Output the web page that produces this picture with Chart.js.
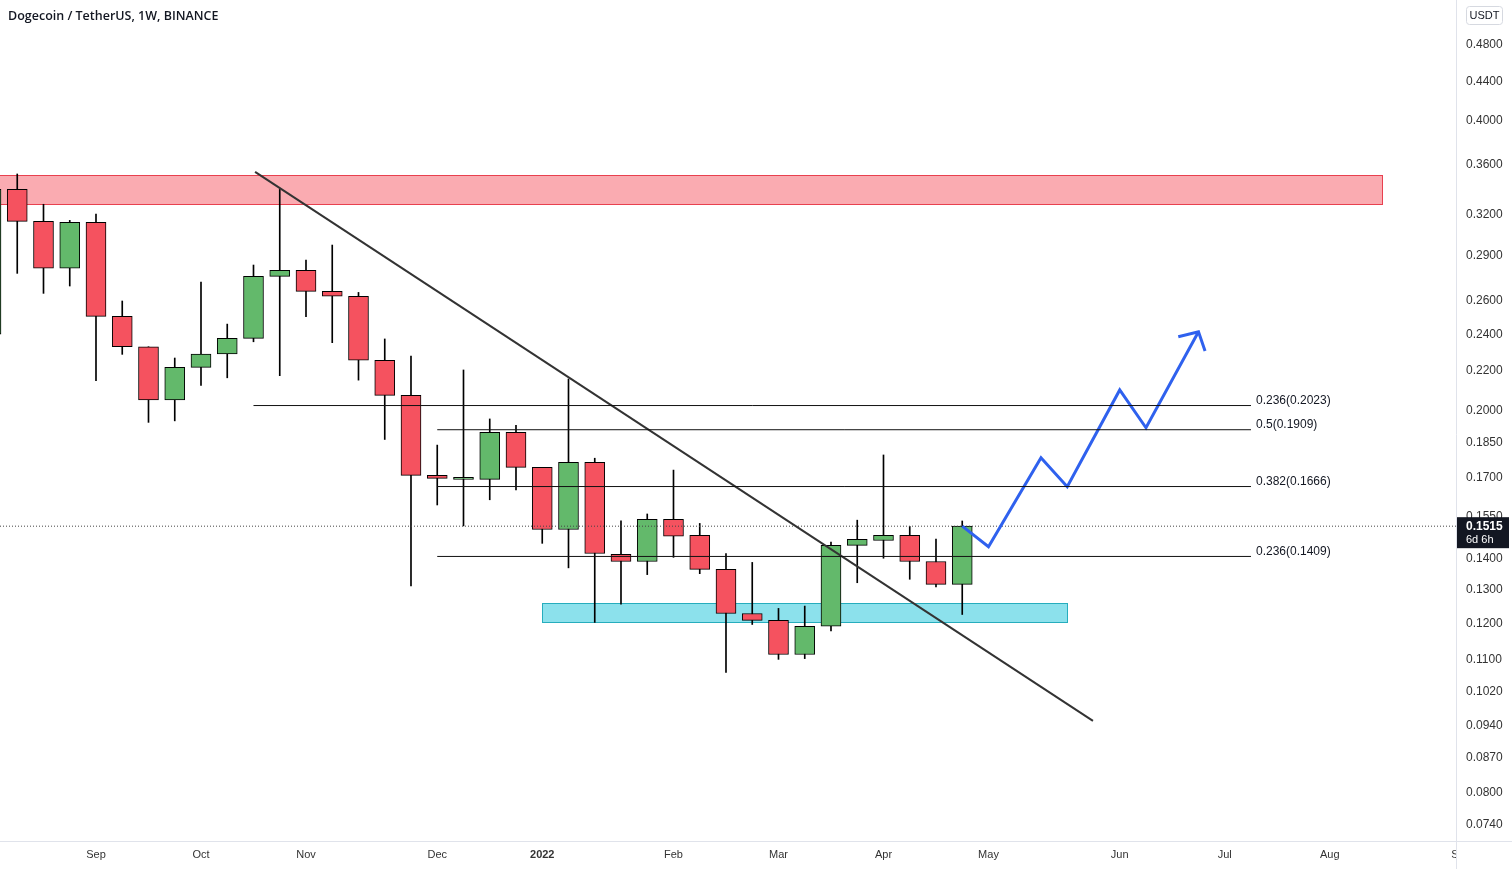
<!DOCTYPE html>
<html>
<head>
<meta charset="utf-8">
<title>Dogecoin / TetherUS, 1W, BINANCE</title>
<script src="https://cdn.jsdelivr.net/npm/chart.js@4.4.1/dist/chart.umd.min.js"></script>
<style>
  html, body { margin: 0; padding: 0; background: #fff; }
  #wrap { width: 1512px; height: 869px; position: relative; }
</style>
</head>
<body>
<div id="wrap"><canvas id="dogeChart"></canvas></div>
<script>
// weekly candles (monday of each week)
const weeks = [
  '2021-08-09', '2021-08-16', '2021-08-23', '2021-08-30', '2021-09-06', '2021-09-13', '2021-09-20', '2021-09-27',
  '2021-10-04', '2021-10-11', '2021-10-18', '2021-10-25', '2021-11-01', '2021-11-08', '2021-11-15', '2021-11-22',
  '2021-11-29', '2021-12-06', '2021-12-13', '2021-12-20', '2021-12-27', '2022-01-03', '2022-01-10', '2022-01-17',
  '2022-01-24', '2022-01-31', '2022-02-07', '2022-02-14', '2022-02-21', '2022-02-28', '2022-03-07', '2022-03-14',
  '2022-03-21', '2022-03-28', '2022-04-04', '2022-04-11', '2022-04-18', '2022-04-25', '2022-05-02', '2022-05-09',
  '2022-05-16', '2022-05-23', '2022-05-30', '2022-06-06', '2022-06-13', '2022-06-20', '2022-06-27', '2022-07-04',
  '2022-07-11', '2022-07-18', '2022-07-25', '2022-08-01', '2022-08-08', '2022-08-15', '2022-08-22', '2022-08-29',
  '2022-09-05'
];
const opens  = [0.2401, 0.3396, 0.3145, 0.2811, 0.3138, 0.2505, 0.2329, 0.2050, 0.2217, 0.2289, 0.2376, 0.2757, 0.2797,
  0.2660, 0.2629, 0.2255, 0.2073, 0.1711, 0.1695, 0.1695, 0.1897, 0.1744, 0.1503, 0.1766, 0.1416, 0.1392, 0.1540,
  0.1482, 0.1366, 0.1229, 0.1209, 0.1114, 0.1192, 0.1447, 0.1464, 0.1482, 0.1392, 0.1318];
const highs  = [0.3490, 0.3524, 0.3277, 0.3153, 0.3201, 0.2599, 0.2329, 0.2267, 0.2720, 0.2459, 0.2833, 0.3396, 0.2867,
  0.2972, 0.2653, 0.2373, 0.2278, 0.1840, 0.2203, 0.1959, 0.1929, 0.1744, 0.2156, 0.1783, 0.1535, 0.1560, 0.1733,
  0.1525, 0.1419, 0.1389, 0.1244, 0.1251, 0.1458, 0.1537, 0.1797, 0.1514, 0.1469, 0.1534];
const lows   = [0.2380, 0.2777, 0.2647, 0.2694, 0.2147, 0.2287, 0.1943, 0.1950, 0.2123, 0.2162, 0.2357, 0.2173, 0.2503,
  0.2352, 0.2150, 0.1865, 0.1313, 0.1594, 0.1516, 0.1614, 0.1653, 0.1454, 0.1371, 0.1203, 0.1257, 0.1349, 0.1406,
  0.1352, 0.1067, 0.1197, 0.1101, 0.1103, 0.1179, 0.1323, 0.1403, 0.1334, 0.1310, 0.1226];
const closes = [0.3396, 0.3145, 0.2811, 0.3138, 0.2505, 0.2329, 0.2050, 0.2217, 0.2289, 0.2376, 0.2757, 0.2797, 0.2660,
  0.2629, 0.2255, 0.2073, 0.1711, 0.1699, 0.1695, 0.1897, 0.1744, 0.1503, 0.1766, 0.1419, 0.1392, 0.1540, 0.1479,
  0.1366, 0.1229, 0.1209, 0.1114, 0.1192, 0.1447, 0.1468, 0.1482, 0.1392, 0.1318, 0.1515];

// price axis labels
const priceTicks = [0.48, 0.44, 0.40, 0.36, 0.32, 0.29, 0.26, 0.24, 0.22, 0.20, 0.185, 0.17, 0.155, 0.14, 0.13, 0.12,
  0.11, 0.102, 0.094, 0.087, 0.080, 0.074];
const monthNames = ['Jan', 'Feb', 'Mar', 'Apr', 'May', 'Jun', 'Jul', 'Aug', 'Sep', 'Oct', 'Nov', 'Dec'];

// drawings (week index, price)
const resistanceZone = [-2, 53, 0.3279, 0.3515];   // from, to, low, high
const supportZone = [21, 41, 0.1204, 0.1260];
const trendWeeks = [10.06, 41.98];
const trendPrices = [0.3541, 0.0950];
const fibRatios = ['0.236', '0.5', '0.382', '0.236'];
const fibPrices = [0.2023, 0.1909, 0.1666, 0.1409];
const fibStart = [10, 17, 17, 17];
const fibEnd = 48;
const pathWeeks = [37, 38, 40, 41, 43, 44, 46];
const pathPrices = [0.1515, 0.1442, 0.1785, 0.1665, 0.2100, 0.1918, 0.2414];
const arrowWeeks = [45.23, 46, 46.25];
const arrowPrices = [0.2386, 0.2414, 0.2305];

const xMin = 0.343, xMax = 55.81;
const yMin = 0.07124, yMax = 0.5347;
const lastClose = closes[closes.length - 1];

// month ticks: first week of every month
const monthTicks = [];
for (let i = 1; i < weeks.length; i++) {
  const m = new Date(weeks[i]).getUTCMonth();
  if (m !== new Date(weeks[i - 1]).getUTCMonth()) {
    monthTicks.push({ value: i, label: m === 0 ? String(new Date(weeks[i]).getUTCFullYear()) : monthNames[m] });
  }
}

const upColor = '#63b96b';
const downColor = '#f5525f';

const candleIdx = closes.map((c, i) => i);
const wickData = candleIdx.map(i => ({ x: i, y: [lows[i], highs[i]] }));
const bodyData = candleIdx.map(i => ({ x: i, y: [opens[i], closes[i]] }));
const bodyColors = candleIdx.map(i => closes[i] >= opens[i] ? upColor : downColor);

function lineSet(xs, ys, color, width, extra) {
  return Object.assign({
    type: 'line',
    data: xs.map((v, k) => ({ x: v, y: ys[k] })),
    borderColor: color,
    borderWidth: width,
    pointRadius: 0,
    fill: false,
    tension: 0,
    order: 0
  }, extra || {});
}

const fibSets = fibPrices.map((p, k) => lineSet([fibStart[k], fibEnd], [p, p], '#111', 1));

// zones, labels, price tag, title
const overlayPlugin = {
  id: 'overlay',
  beforeDatasetsDraw(chart) {
    const { ctx, chartArea, scales: { x, y } } = chart;
    ctx.save();
    ctx.beginPath();
    ctx.rect(chartArea.left, chartArea.top, chartArea.width, chartArea.height);
    ctx.clip();
    const zone = (z, fill, stroke) => {
      const x1 = x.getPixelForValue(z[0]), x2 = x.getPixelForValue(z[1]);
      const y1 = y.getPixelForValue(z[3]), y2 = y.getPixelForValue(z[2]);
      ctx.fillStyle = fill;
      ctx.fillRect(x1, y1, x2 - x1, y2 - y1);
      ctx.strokeStyle = stroke;
      ctx.lineWidth = 1;
      ctx.strokeRect(Math.round(x1) + 0.5, Math.round(y1) + 0.5, Math.round(x2 - x1), Math.round(y2 - y1));
    };
    zone(resistanceZone, 'rgba(242, 54, 69, 0.42)', '#e8404f');
    zone(supportZone, 'rgba(0, 188, 212, 0.45)', '#26adbd');
    ctx.restore();
  },
  afterDraw(chart) {
    const { ctx, chartArea, scales: { x, y } } = chart;
    ctx.save();
    // the time axis is cut where the price axis starts
    ctx.fillStyle = '#ffffff';
    ctx.fillRect(chartArea.right, chartArea.bottom + 1, chart.width - chartArea.right, chart.height - chartArea.bottom);

    // axis borders
    ctx.strokeStyle = '#e0e3eb';
    ctx.lineWidth = 1;
    ctx.beginPath();
    ctx.moveTo(0, Math.round(chartArea.bottom) + 0.5);
    ctx.lineTo(chart.width, Math.round(chartArea.bottom) + 0.5);
    ctx.moveTo(Math.round(chartArea.right) + 0.5, 0);
    ctx.lineTo(Math.round(chartArea.right) + 0.5, chart.height);
    ctx.stroke();

    // fib labels
    ctx.font = '12px "Liberation Sans", Arial, sans-serif';
    ctx.fillStyle = '#131722';
    ctx.textAlign = 'left';
    ctx.textBaseline = 'bottom';
    fibPrices.forEach((p, k) => {
      ctx.fillText(fibRatios[k] + '(' + p.toFixed(4) + ')', x.getPixelForValue(fibEnd) + 5, y.getPixelForValue(p) + 1);
    });

    // title
    ctx.font = '600 12.5px "Open Sans", sans-serif';
    ctx.textBaseline = 'middle';
    ctx.fillText('Dogecoin / TetherUS, 1W, BINANCE', 8, 16);

    // currency box
    ctx.strokeStyle = '#d6d9e0';
    ctx.beginPath();
    ctx.roundRect(chartArea.right + 10.5, 6.5, 36, 18, 3);
    ctx.stroke();
    ctx.font = '11px "Liberation Sans", Arial, sans-serif';
    ctx.textAlign = 'center';
    ctx.fillText('USDT', chartArea.right + 28.5, 16);

    // last price tag
    const py = y.getPixelForValue(lastClose);
    ctx.fillStyle = '#131722';
    ctx.fillRect(chartArea.right + 1, py - 9, 52, 31);
    ctx.fillStyle = '#ffffff';
    ctx.textAlign = 'left';
    ctx.font = 'bold 12px "Liberation Sans", Arial, sans-serif';
    ctx.fillText(lastClose.toFixed(4), chartArea.right + 10, py + 1);
    ctx.font = '11px "Liberation Sans", Arial, sans-serif';
    ctx.fillText('6d 6h', chartArea.right + 10, py + 14);
    ctx.restore();
  }
};

const ctxDoge = document.getElementById('dogeChart').getContext('2d');
const dogeChart = new Chart(ctxDoge, {
  type: 'bar',
  data: {
    datasets: [
      {
        label: 'wicks',
        data: wickData,
        backgroundColor: '#000',
        barThickness: 1,
        grouped: false,
        order: 3
      },
      {
        label: 'bodies',
        data: bodyData,
        backgroundColor: bodyColors,
        borderColor: '#000',
        borderWidth: 1,
        borderSkipped: false,
        barThickness: 20,
        minBarLength: 2,
        grouped: false,
        order: 2
      },
      lineSet([xMin, xMax], [lastClose, lastClose], '#444', 1, { borderDash: [1, 2], order: 1 }),
      ...fibSets,
      lineSet(trendWeeks, trendPrices, '#333', 2),
      lineSet(pathWeeks, pathPrices, '#2f61ee', 3, { borderJoinStyle: 'miter' }),
      lineSet(arrowWeeks, arrowPrices, '#2f61ee', 3, { borderJoinStyle: 'miter' })
    ]
  },
  options: {
    responsive: true,
    maintainAspectRatio: false,
    animation: false,
    layout: { padding: 0 },
    plugins: {
      legend: { display: false },
      tooltip: { enabled: false }
    },
    scales: {
      x: {
        type: 'linear',
        min: xMin,
        max: xMax,
        bounds: 'data',
        offset: false,
        grid: { display: false, drawTicks: false },
        border: { display: false },
        afterBuildTicks: scale => { scale.ticks = monthTicks.map(t => ({ value: t.value })); },
        afterFit: scale => { scale.height = 28; scale.paddingLeft = 0; scale.paddingRight = 0; },
        ticks: {
          autoSkip: false,
          maxRotation: 0,
          padding: 7,
          color: '#333',
          font: c => ({
            family: '"Liberation Sans", Arial, sans-serif',
            size: 11,
            weight: c.tick && c.tick.label === '2022' ? 'bold' : 'normal'
          }),
          callback: v => {
            const t = monthTicks.find(m => m.value === v);
            return t ? t.label : '';
          }
        }
      },
      y: {
        type: 'logarithmic',
        position: 'right',
        min: yMin,
        max: yMax,
        bounds: 'data',
        grid: { display: false, drawTicks: false },
        border: { display: false },
        afterBuildTicks: scale => { scale.ticks = priceTicks.map(v => ({ value: v })); },
        afterFit: scale => { scale.width = 56; scale.paddingTop = 0; scale.paddingBottom = 0; },
        ticks: {
          autoSkip: false,
          padding: 10,
          color: '#333',
          font: { family: '"Liberation Sans", Arial, sans-serif', size: 12 },
          callback: v => Number(v).toFixed(4)
        }
      }
    }
  },
  plugins: [overlayPlugin]
});
</script>
</body>
</html>
